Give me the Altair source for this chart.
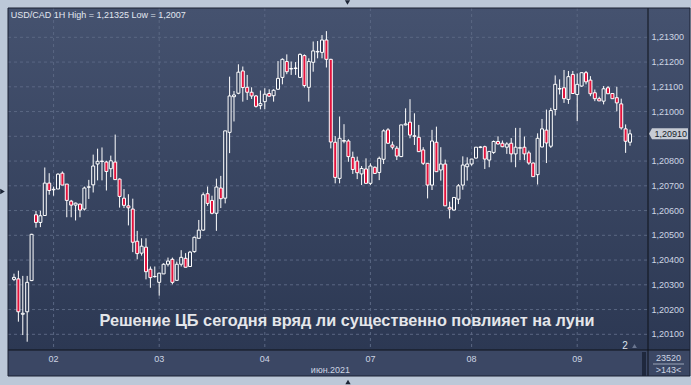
import altair as alt
import pandas as pd

# ---------------- data (prices as 1e-5 steps above 1.20000) ----------------
BASE = 1.2
OPEN_PTS = [322, 324, 181, 191, 317, 583, 552, 580, 711, 684,
            687, 751, 707, 638, 622, 626, 606, 694, 704, 788,
            798, 796, 769, 796, 727, 650, 619, 606, 476, 428,
            452, 363, 333, 310, 344, 383, 403, 318, 383, 407,
            374, 434, 488, 521, 668, 641, 589, 691, 650, 916,
            1060, 1074, 1164, 1098, 1078, 1063, 1024, 1040, 1073, 1064,
            1090, 1138, 1202, 1172, 1174, 1138, 1226, 1098, 1199, 1241,
            1239, 1289, 1211, 876, 730, 880, 881, 815, 800, 748,
            768, 710, 775, 754, 807, 926, 865, 852, 818, 946,
            957, 902, 896, 845, 791, 703, 876, 764, 788, 613,
            602, 646, 703, 777, 788, 812, 855, 858, 804, 835,
            879, 872, 856, 872, 829, 852, 856, 833, 792, 745,
            857, 925, 860, 1008, 1091, 1096, 1049, 1150, 1069, 1103,
            1157, 1127, 1076, 1052, 1042, 1096, 1073, 1056, 1031, 930,
            876]
HIGH_PTS = [345, 357, 336, 336, 506, 599, 599, 774, 751, 697,
            751, 758, 707, 643, 632, 628, 697, 724, 826, 850,
            855, 801, 822, 907, 730, 687, 666, 648, 518, 488,
            488, 374, 374, 347, 387, 410, 410, 394, 440, 428,
            437, 495, 562, 673, 697, 660, 729, 740, 922, 1141,
            1083, 1191, 1182, 1148, 1098, 1067, 1085, 1094, 1090, 1090,
            1204, 1215, 1231, 1202, 1200, 1235, 1231, 1215, 1283, 1285,
            1309, 1325, 1213, 901, 980, 949, 888, 838, 818, 780,
            811, 791, 778, 818, 928, 933, 879, 861, 946, 1013,
            1050, 993, 946, 856, 792, 926, 939, 856, 806, 636,
            653, 707, 819, 815, 808, 856, 860, 862, 839, 883,
            900, 883, 876, 893, 934, 934, 899, 842, 794, 912,
            970, 1008, 1015, 1146, 1130, 1168, 1164, 1164, 1154, 1157,
            1164, 1143, 1089, 1060, 1103, 1103, 1073, 1100, 1052, 948,
            927]
LOW_PTS = [315, 151, 97, 70, 315, 531, 533, 580, 664, 660,
           687, 703, 573, 573, 560, 573, 600, 647, 673, 722,
           722, 681, 735, 725, 612, 610, 540, 432, 403, 418,
           322, 288, 329, 256, 344, 374, 302, 318, 374, 371,
           374, 430, 488, 518, 619, 585, 518, 610, 629, 832,
           960, 1070, 1040, 1047, 1051, 1016, 1009, 1009, 1060, 1040,
           1088, 1110, 1151, 1148, 1148, 1136, 1097, 1040, 1161, 1215,
           1215, 1178, 851, 710, 710, 872, 797, 748, 727, 703,
           710, 703, 748, 723, 788, 870, 847, 804, 816, 944,
           892, 865, 838, 784, 649, 683, 757, 721, 619, 568,
           600, 626, 684, 721, 781, 810, 852, 768, 775, 829,
           867, 856, 829, 795, 775, 804, 804, 785, 737, 705,
           855, 792, 853, 984, 1069, 1035, 1031, 1073, 961, 1100,
           1110, 1062, 1042, 1043, 1029, 1072, 1052, 1001, 927, 833,
           862]
CLOSE_PTS = [330, 191, 185, 310, 504, 552, 579, 711, 681, 686,
             747, 703, 641, 622, 630, 602, 691, 696, 780, 799,
             800, 758, 801, 725, 657, 621, 611, 472, 426, 456,
             353, 329, 334, 347, 383, 396, 310, 383, 411, 371,
             432, 492, 521, 664, 629, 589, 695, 648, 922, 1063,
             1067, 1159, 1097, 1078, 1063, 1021, 1032, 1070, 1062, 1086,
             1134, 1211, 1161, 1174, 1176, 1231, 1105, 1202, 1245, 1243,
             1289, 1211, 877, 734, 892, 883, 818, 766, 753, 770,
             710, 780, 750, 811, 922, 872, 856, 820, 946, 950,
             905, 900, 838, 791, 703, 881, 757, 788, 619, 606,
             653, 700, 784, 788, 808, 856, 857, 808, 839, 879,
             869, 858, 869, 829, 856, 854, 829, 792, 737, 892,
             930, 873, 1004, 1110, 1093, 1052, 1141, 1073, 1110, 1157,
             1120, 1072, 1052, 1043, 1092, 1072, 1052, 1035, 934, 880,
             910]

DAY_LABELS = ["02", "03", "04", "07", "08", "09"]
DAY_INDEX = [9, 33, 57, 81, 104, 128]
PRICE_TICKS = [1.201, 1.202, 1.203, 1.204, 1.205, 1.206, 1.207,
               1.208, 1.209, 1.210, 1.211, 1.212, 1.213]
LAST_PRICE = 1.20910
TITLE = "USD/CAD 1H High = 1,21325 Low = 1,2007"
CAPTION = "Решение ЦБ сегодня вряд ли существенно повлияет на луни"
MONTH = "июн.2021"
BAR_COUNT = "23520"
VISIBLE = ">143<"

# ---------------- tables ----------------
df = pd.DataFrame({
    "i": list(range(len(OPEN_PTS))),
    "o": [BASE + v / 1e5 for v in OPEN_PTS],
    "h": [BASE + v / 1e5 for v in HIGH_PTS],
    "l": [BASE + v / 1e5 for v in LOW_PTS],
    "c": [BASE + v / 1e5 for v in CLOSE_PTS],
})
ticks = pd.DataFrame({"p": PRICE_TICKS,
                      "lab": [f"{p:.5f}".replace(".", ",") for p in PRICE_TICKS]})
tick_labels = ticks[ticks["p"].round(5) != 1.209]
days = pd.DataFrame({"i": DAY_INDEX, "lab": DAY_LABELS})
last = pd.DataFrame({"p": [LAST_PRICE], "lab": [f"{LAST_PRICE:.5f}".replace(".", ",")]})
one = pd.DataFrame({"k": [0]})

FONT = "Liberation Sans"
W, H = 640, 342
xs = alt.Scale(domain=[-0.224, 142.95], nice=False, zero=False)
ys = alt.Scale(domain=[1.200366, 1.214184], nice=False, zero=False)
X = lambda f: alt.X(f, scale=xs, axis=None)
Y = lambda f: alt.Y(f, scale=ys, axis=None)

grad = alt.Gradient(gradient="linear", x1=0, x2=0, y1=0, y2=1,
                    stops=[alt.GradientStop(color="#45526f", offset=0),
                           alt.GradientStop(color="#2c3853", offset=1)])

bg = alt.Chart(one).mark_rect(fill=grad).encode(
    x=alt.value(0), x2=alt.value(682), y=alt.value(0), y2=alt.value(342))
band = alt.Chart(one).mark_rect(fill="#3b4764").encode(
    x=alt.value(0), x2=alt.value(682), y=alt.value(342), y2=alt.value(368))
scroll = alt.Chart(one).mark_rect(fill="#1f283d").encode(
    x=alt.value(634), x2=alt.value(638), y=alt.value(344), y2=alt.value(368))

hgrid = alt.Chart(ticks).mark_rule(color="#5a6783", strokeDash=[3, 3], strokeWidth=1).encode(
    y=Y("p:Q"), x=alt.value(0), x2=alt.value(640))
vgrid = alt.Chart(days).mark_rule(color="#5a6783", strokeDash=[3, 3], strokeWidth=1).encode(
    x=X("i:Q"), y=alt.value(0), y2=alt.value(342))

sep_v = alt.Chart(one).mark_rule(color="#0e121b", strokeWidth=1).encode(
    x=alt.value(640), y=alt.value(0), y2=alt.value(368))
sep_h = alt.Chart(one).mark_rule(color="#0e121b", strokeWidth=1).encode(
    y=alt.value(342), x=alt.value(0), x2=alt.value(682))
border = alt.Chart(one).mark_rect(filled=False, stroke="#1a2132", strokeWidth=1).encode(
    x=alt.value(0), x2=alt.value(682), y=alt.value(0), y2=alt.value(368))

wicks = alt.Chart(df).mark_rule(color="#ffffff", strokeWidth=1, clip=True).encode(
    x=X("i:Q"), y=Y("l:Q"), y2="h:Q")
bodies = alt.Chart(df).mark_bar(size=3, stroke="#ffffff", strokeWidth=1, clip=True).encode(
    x=X("i:Q"), y=Y("o:Q"), y2="c:Q",
    fill=alt.condition("datum.c < datum.o", alt.value("#e3123c"), alt.value("#34415d")))

ylabels = alt.Chart(tick_labels).mark_text(
    align="left", baseline="middle", fontSize=9, font=FONT, color="#cdd5e3").encode(
    x=alt.value(643.5), y=Y("p:Q"), text="lab:N")
xlabels = alt.Chart(days).mark_text(
    align="center", baseline="middle", fontSize=9, font=FONT, color="#cdd5e3").encode(
    x=X("i:Q"), y=alt.value(350.5), text="lab:N")
month = alt.Chart(one).mark_text(
    align="center", baseline="middle", fontSize=9, font=FONT, color="#cdd5e3", text=MONTH).encode(
    x=alt.value(322.5), y=alt.value(361.5))

tag_shape = "M -1 0 L -0.846 -0.28 L 1 -0.28 L 1 0.28 L -0.846 0.28 Z"
tag = alt.Chart(last).mark_point(shape=tag_shape, filled=True, fill="#c6cbd4",
                                 opacity=1, size=1521).encode(
    x=alt.value(660.5), y=Y("p:Q"))
tag_text = alt.Chart(last).mark_text(
    align="left", baseline="middle", fontSize=9, font=FONT, color="#141a28").encode(
    x=alt.value(646.5), y=Y("p:Q"), text="lab:N")

title = alt.Chart(one).mark_text(
    align="left", baseline="alphabetic", fontSize=9, font=FONT, color="#e2e7f0", text=TITLE).encode(
    x=alt.value(2.7), y=alt.value(9.7))
caption = alt.Chart(one).mark_text(
    align="center", baseline="alphabetic", fontSize=16.3, fontWeight="bold", font=FONT,
    color="#e4e6ea", text=CAPTION).encode(
    x=alt.value(339), y=alt.value(317.5))

cnt = alt.Chart(one).mark_text(
    align="center", baseline="middle", fontSize=9, font=FONT, color="#cdd5e3", text=BAR_COUNT).encode(
    x=alt.value(660.5), y=alt.value(349.5))
cnt_line = alt.Chart(one).mark_rule(color="#9aa5b8", strokeWidth=1).encode(
    x=alt.value(645), x2=alt.value(676), y=alt.value(356))
vis = alt.Chart(one).mark_text(
    align="center", baseline="middle", fontSize=9, font=FONT, color="#cdd5e3", text=VISIBLE).encode(
    x=alt.value(660.5), y=alt.value(362))

two = alt.Chart(one).mark_text(
    align="center", baseline="middle", fontSize=10, font=FONT, color="#dde3ec", text="2").encode(
    x=alt.value(617), y=alt.value(338))
two_tri = alt.Chart(one).mark_point(shape="triangle-up", filled=True, color="#6a7690",
                                    opacity=1, size=22).encode(
    x=alt.value(626.5), y=alt.value(338))

m_top = alt.Chart(one).mark_point(shape="triangle-down", filled=True, color="#1c2536",
                                  opacity=1, size=28).encode(x=alt.value(339.5), y=alt.value(-5.5))
m_left = alt.Chart(one).mark_point(shape="triangle-right", filled=True, color="#1c2536",
                                   opacity=1, size=28).encode(x=alt.value(-5.5), y=alt.value(183.5))
m_bot = alt.Chart(one).mark_point(shape="triangle-up", filled=True, color="#1c2536",
                                  opacity=1, size=28).encode(x=alt.value(340), y=alt.value(374))

chart = alt.layer(
    bg, band, scroll, hgrid, vgrid, wicks, bodies, sep_v, sep_h, border,
    ylabels, xlabels, month, tag, tag_text, title, caption,
    cnt, cnt_line, vis, two, two_tri, m_top, m_left, m_bot,
).properties(
    width=W, height=H,
    padding={"left": 8, "top": 8, "right": 43, "bottom": 35},
    autosize=alt.AutoSizeParams(type="none"),
    background="#bcc8d8",
).configure_view(stroke=None)

chart.save("out.html", embed_options={"renderer": "svg", "actions": False})
